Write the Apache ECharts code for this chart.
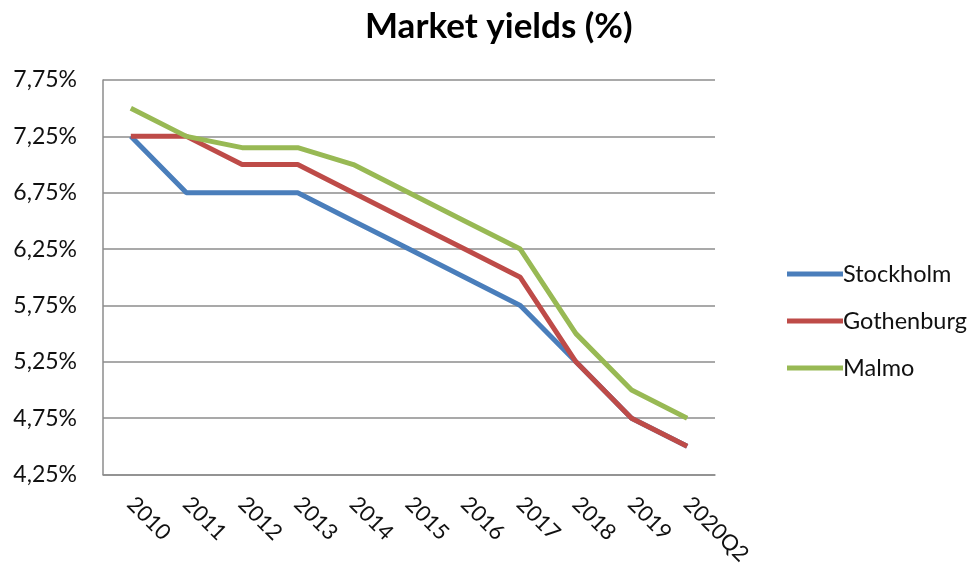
<!DOCTYPE html>
<html>
<head>
<meta charset="utf-8">
<script src="https://cdn.jsdelivr.net/npm/echarts@6/dist/echarts.min.js"></script>
<style>
  html, body { margin: 0; padding: 0; background: #fff; }
  #chart { width: 973px; height: 568px; }
</style>
</head>
<body>
<div id="chart"></div>
<script>
// Market yields by city, 2010 through 2020Q2 (percent)
const categories = ['2010', '2011', '2012', '2013', '2014', '2015', '2016', '2017', '2018', '2019', '2020Q2'];
const stockholm  = [7.25, 6.75, 6.75, 6.75, 6.50, 6.25, 6.00, 5.75, 5.25, 4.75, 4.50];
const gothenburg = [7.25, 7.25, 7.00, 7.00, 6.75, 6.50, 6.25, 6.00, 5.25, 4.75, 4.50];
const malmo      = [7.50, 7.25, 7.15, 7.15, 7.00, 6.75, 6.50, 6.25, 5.50, 5.00, 4.75];
const yTicks = { min: 4.25, max: 7.75, step: 0.5 };

const font = 'Lato, "Open Sans", sans-serif';
const chart = echarts.init(document.getElementById('chart'), null, { renderer: 'canvas' });

function lineSeries(name, data, color) {
  return {
    name: name,
    type: 'line',
    data: data,
    symbol: 'none',
    smooth: false,
    lineStyle: { color: color, width: 5 },
    itemStyle: { color: color }
  };
}

chart.setOption({
  animation: false,
  backgroundColor: '#ffffff',
  title: {
    text: 'Market yields (%)',
    left: 360,
    top: 4,
    textStyle: { fontFamily: font, fontSize: 35, fontWeight: 'bold', color: '#000' }
  },
  legend: {
    orient: 'vertical',
    left: 782,
    top: 257,
    itemGap: 23,
    itemWidth: 56,
    itemHeight: 5,
    icon: 'rect',
    textStyle: { fontFamily: font, fontSize: 23.5, color: '#111', padding: [0, 0, 0, -5] },
    data: ['Stockholm', 'Gothenburg', 'Malmo']
  },
  grid: { left: 103, right: 258, top: 80, bottom: 93, containLabel: false },
  xAxis: {
    type: 'category',
    data: categories,
    boundaryGap: true,
    axisLine: { show: true, lineStyle: { color: '#8c8c8c', width: 1.5 } },
    axisTick: { show: false },
    axisLabel: {
      rotate: -45,
      margin: 26,
      interval: 0,
      fontFamily: font,
      fontSize: 22,
      color: '#111'
    },
    splitLine: { show: false }
  },
  yAxis: {
    type: 'value',
    min: yTicks.min,
    max: yTicks.max,
    interval: yTicks.step,
    axisLine: { show: true, lineStyle: { color: '#8c8c8c', width: 1.5 } },
    axisTick: { show: false },
    axisLabel: {
      margin: 26,
      fontFamily: font,
      fontSize: 23,
      color: '#111',
      formatter: v => v.toFixed(2).replace('.', ',') + '%'
    },
    splitLine: { show: true, lineStyle: { color: '#8c8c8c', width: 1.5 } }
  },
  series: [
    lineSeries('Stockholm', stockholm, '#4a7ebb'),
    lineSeries('Gothenburg', gothenburg, '#be4b48'),
    lineSeries('Malmo', malmo, '#98b954')
  ]
});
</script>
</body>
</html>
